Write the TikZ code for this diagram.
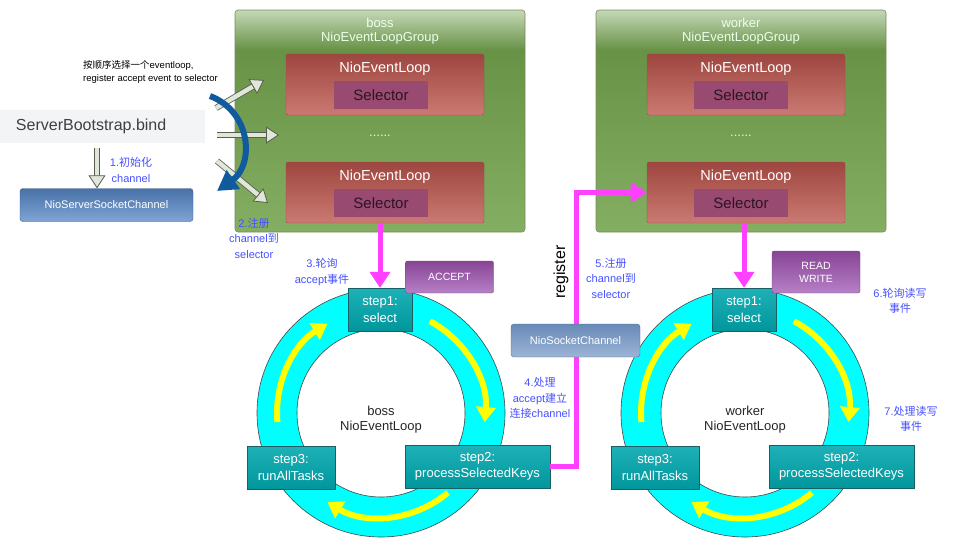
\documentclass[tikz,border=0pt]{standalone}
\usepackage{fontspec}
\setmainfont{Liberation Sans}
\newfontfamily\cjk{Noto Sans CJK SC}
\newcommand{\zh}[1]{{\cjk #1}}
\definecolor{GroupTop}{RGB}{196,216,182}
\definecolor{GroupDark}{RGB}{104,146,70}
\definecolor{GroupBot}{RGB}{132,174,98}
\definecolor{GroupLine}{RGB}{120,140,100}
\definecolor{NelTop}{RGB}{158,70,64}
\definecolor{NelBot}{RGB}{202,122,114}
\definecolor{NelLine}{RGB}{150,80,75}
\definecolor{SelPurple}{RGB}{152,74,112}
\definecolor{SelText}{RGB}{45,20,35}
\definecolor{StepTop}{RGB}{30,178,184}
\definecolor{StepBot}{RGB}{0,150,156}
\definecolor{StepLine}{RGB}{25,95,100}
\definecolor{RingCyan}{RGB}{0,255,255}
\definecolor{RingLine}{RGB}{70,70,70}
\definecolor{YellowArr}{RGB}{255,255,0}
\definecolor{MagLine}{RGB}{255,64,255}
\definecolor{NoteBlue}{RGB}{70,80,255}
\definecolor{TagTop}{RGB}{136,68,150}
\definecolor{TagBot}{RGB}{182,128,198}
\definecolor{TagLine}{RGB}{120,70,130}
\definecolor{ChanTop}{RGB}{72,114,168}
\definecolor{ChanBot}{RGB}{128,164,212}
\definecolor{SockTop}{RGB}{104,138,184}
\definecolor{SockBot}{RGB}{156,180,214}
\definecolor{CurveBlue}{RGB}{16,90,158}
\definecolor{HollowLine}{RGB}{85,95,75}
\definecolor{HollowFill}{RGB}{225,230,218}
\definecolor{BandGray}{RGB}{243,244,245}
\usetikzlibrary{
    arrows.meta,
    positioning,
    calc,
}
\pgfdeclareverticalshading{groupshade}{100bp}{color(0bp)=(GroupBot); color(25bp)=(GroupBot); color(66bp)=(GroupDark); color(75bp)=(GroupTop); color(100bp)=(GroupTop)}

\begin{document}
\begin{tikzpicture}[x=1pt, y=-1pt,
    loopgroup/.style={rectangle, rounded corners=3pt, draw=GroupLine, line width=0.6pt, shade, shading=groupshade, minimum width=290pt, minimum height=222pt},
    grouptitle/.style={font=\fontsize{13}{14.5}\selectfont, text=white!92!green, align=center, inner sep=0pt},
    nel/.style={rectangle, rounded corners=2pt, draw=NelLine, top color=NelTop, bottom color=NelBot, minimum width=198pt, minimum height=61pt},
    neltitle/.style={font=\fontsize{14.5}{17}\selectfont, text=white, inner sep=0pt},
    selector/.style={rectangle, fill=SelPurple, minimum width=94pt, minimum height=28pt, font=\fontsize{15}{18}\selectfont, text=SelText, inner sep=0pt},
    dotrow/.style={font=\fontsize{13}{14}\selectfont, text=white!85!green, inner sep=0pt},
    stepbox/.style={rectangle, draw=StepLine, top color=StepTop, bottom color=StepBot, minimum height=43pt, font=\fontsize{13}{16.5}\selectfont, text=white, align=center, inner sep=0pt},
    ring/.style={fill=RingCyan, draw=RingLine, line width=0.6pt, even odd rule},
    yarrow/.style={YellowArr, line width=6pt, -{Triangle[length=15pt, width=19pt]}},
    magarrow/.style={MagLine, line width=5pt, -{Triangle[length=16pt, width=20pt]}},
    note/.style={font=\fontsize{11}{15.5}\selectfont, text=NoteBlue, align=center, inner sep=0pt},
    tag/.style={rectangle, rounded corners=2pt, draw=TagLine, top color=TagTop, bottom color=TagBot, font=\fontsize{10.5}{13}\selectfont, text=white, align=center, minimum width=88pt, inner sep=0pt},
    chan/.style={rectangle, rounded corners=3pt, minimum height=33pt, font=\fontsize{11}{13}\selectfont, text=white, inner sep=0pt},
    hollow/.style={draw=HollowLine, line width=0.8pt, double=HollowFill, double distance=4.5pt, -{Triangle[open, length=13pt, width=17pt, fill=HollowFill]}},
    curvearrow/.style={CurveBlue, line width=6pt, -{Triangle[length=20pt, width=22pt]}},
    looptext/.style={font=\fontsize{13}{15}\selectfont, text=black!85, align=center, inner sep=0pt},
]
    \useasboundingbox (0,0) rectangle (972,539);

    % bootstrap side
    \node[rectangle, fill=BandGray, minimum width=205pt, minimum height=33pt, inner xsep=16pt, text width=173pt, align=left, font=\fontsize{16}{18}\selectfont, text=black!75] (bind) at (102.5,126.5) {ServerBootstrap.bind};
    \node[chan, draw=ChanTop!80!black, top color=ChanTop, bottom color=ChanBot, minimum width=173pt] (nssc) at (106.5,205) {NioServerSocketChannel};
    \draw[hollow, shorten <=5pt] ([xshift=-5.5pt]bind.south) -- ([xshift=-9.5pt]nssc.north);
    \node[note] (n1) at (131,170) {1.\zh{初始化}\\channel};
    \node[font=\fontsize{9.5}{12.5}\selectfont, align=left, anchor=west, inner sep=0pt] (hint) at (83,72) {\zh{按顺序选择一个}eventloop,\\register accept event to selector};

    % boss group
    \node[loopgroup] (bgroup) at (380,121) {};
    \node[grouptitle, below=8pt of bgroup.north] (btitle) {boss\\NioEventLoopGroup};
    \node[nel] (bnel1) at (385,84.5) {};
    \node[neltitle, below=7.5pt of bnel1.north] (bnt1) {NioEventLoop};
    \node[selector] (bsel1) at (381,95) {Selector};
    \node[dotrow] (bdots) at (380,136) {......};
    \node[nel] (bnel2) at (385,192.5) {};
    \node[neltitle, below=7.5pt of bnel2.north] (bnt2) {NioEventLoop};
    \node[selector] (bsel2) at (381,203) {Selector};

    % worker group
    \node[loopgroup] (wgroup) at (741,121) {};
    \node[grouptitle, below=8pt of wgroup.north] (wtitle) {worker\\NioEventLoopGroup};
    \node[nel] (wnel1) at (746,84.5) {};
    \node[neltitle, below=7.5pt of wnel1.north] (wnt1) {NioEventLoop};
    \node[selector] (wsel1) at (741,95) {Selector};
    \node[dotrow] (wdots) at (741,136) {......};
    \node[nel] (wnel2) at (746,192.5) {};
    \node[neltitle, below=7.5pt of wnel2.north] (wnt2) {NioEventLoop};
    \node[selector] (wsel2) at (741,203) {Selector};

    % fan of register arrows
    \coordinate (h1s) at (216,108); \coordinate (h1e) at (264,80);
    \coordinate (h2s) at (217,135); \coordinate (h2e) at (279,135);
    \coordinate (h3s) at (217,161); \coordinate (h3e) at (268,203);
    \draw[hollow] (h1s) -- (h1e);
    \draw[hollow] (h2s) -- (h2e);
    \draw[hollow] (h3s) -- (h3e);
    \coordinate (turn1) at (210,96); \coordinate (turn2) at (217,191);
    \draw[curvearrow] (turn1) .. controls (252,112) and (254,165) .. (turn2);
    \node[note] (n2) at (254,238) {2.\zh{注册}\\channel\zh{到}\\selector};

    % boss loop
    \coordinate (bc) at (381,413);
    \draw[ring] (bc) circle[radius=124pt] circle[radius=84pt];
    \draw[yarrow] ($(bc)+(62:104pt)$) arc[start angle=62, end angle=-5, radius=104pt];
    \draw[yarrow] ($(bc)+(-50:104pt)$) arc[start angle=-50, end angle=-121, radius=104pt];
    \draw[yarrow] ($(bc)+(185:104pt)$) arc[start angle=185, end angle=121, radius=104pt];
    \node[stepbox, minimum width=64pt] (bstep1) at (380,309.5) {step1:\\select};
    \node[stepbox, minimum width=145pt] (bstep2) at (477.5,466.5) {step2:\\processSelectedKeys};
    \node[stepbox, minimum width=88pt] (bstep3) at (291,467.5) {step3:\\runAllTasks};
    \node[looptext] (bcenter) at (381,420) {boss\\NioEventLoop};
    \node[tag, minimum height=32pt] (accept) at (449.5,277) {ACCEPT};
    \node[note] (n3) at (322,272) {3.\zh{轮询}\\accept\zh{事件}};

    % worker loop
    \coordinate (wc) at (745,413);
    \draw[ring] (wc) circle[radius=124pt] circle[radius=84pt];
    \draw[yarrow] ($(wc)+(62:104pt)$) arc[start angle=62, end angle=-5, radius=104pt];
    \draw[yarrow] ($(wc)+(-50:104pt)$) arc[start angle=-50, end angle=-121, radius=104pt];
    \draw[yarrow] ($(wc)+(185:104pt)$) arc[start angle=185, end angle=121, radius=104pt];
    \node[stepbox, minimum width=64pt] (wstep1) at (744,309.5) {step1:\\select};
    \node[stepbox, minimum width=145pt] (wstep2) at (841.5,466.5) {step2:\\processSelectedKeys};
    \node[stepbox, minimum width=88pt] (wstep3) at (655,467.5) {step3:\\runAllTasks};
    \node[looptext] (wcenter) at (745,420) {worker\\NioEventLoop};
    \node[tag, minimum height=42pt] (rw) at (816,272) {READ\\WRITE};
    \node[note] (n6) at (900,301) {6.\zh{轮询读写}\\\zh{事件}};
    \node[note] (n7) at (911,419) {7.\zh{处理读写}\\\zh{事件}};

    % magenta flow
    \draw[magarrow] (bstep1.north |- bnel2.south) -- (bstep1.north);
    \draw[magarrow] (wstep1.north |- wnel2.south) -- (wstep1.north);
    \coordinate (regx) at (576,0);
    \draw[magarrow] (bstep2.east) -| (regx |- wnel2.west) -- (wnel2.west);
    \node[chan, draw=SockTop!80!black, top color=SockTop, bottom color=SockBot, minimum width=129pt] (nsc) at (575.5,340.5) {NioSocketChannel};
    \node[font=\fontsize{16}{18}\selectfont, rotate=90, inner sep=0pt] (reg) at (561,272) {register};
    \node[note] (n4) at (540,398) {4.\zh{处理}\\accept\zh{建立}\\\zh{连接}channel};
    \node[note] (n5) at (611,278) {5.\zh{注册}\\channel\zh{到}\\selector};
\end{tikzpicture}
\end{document}
